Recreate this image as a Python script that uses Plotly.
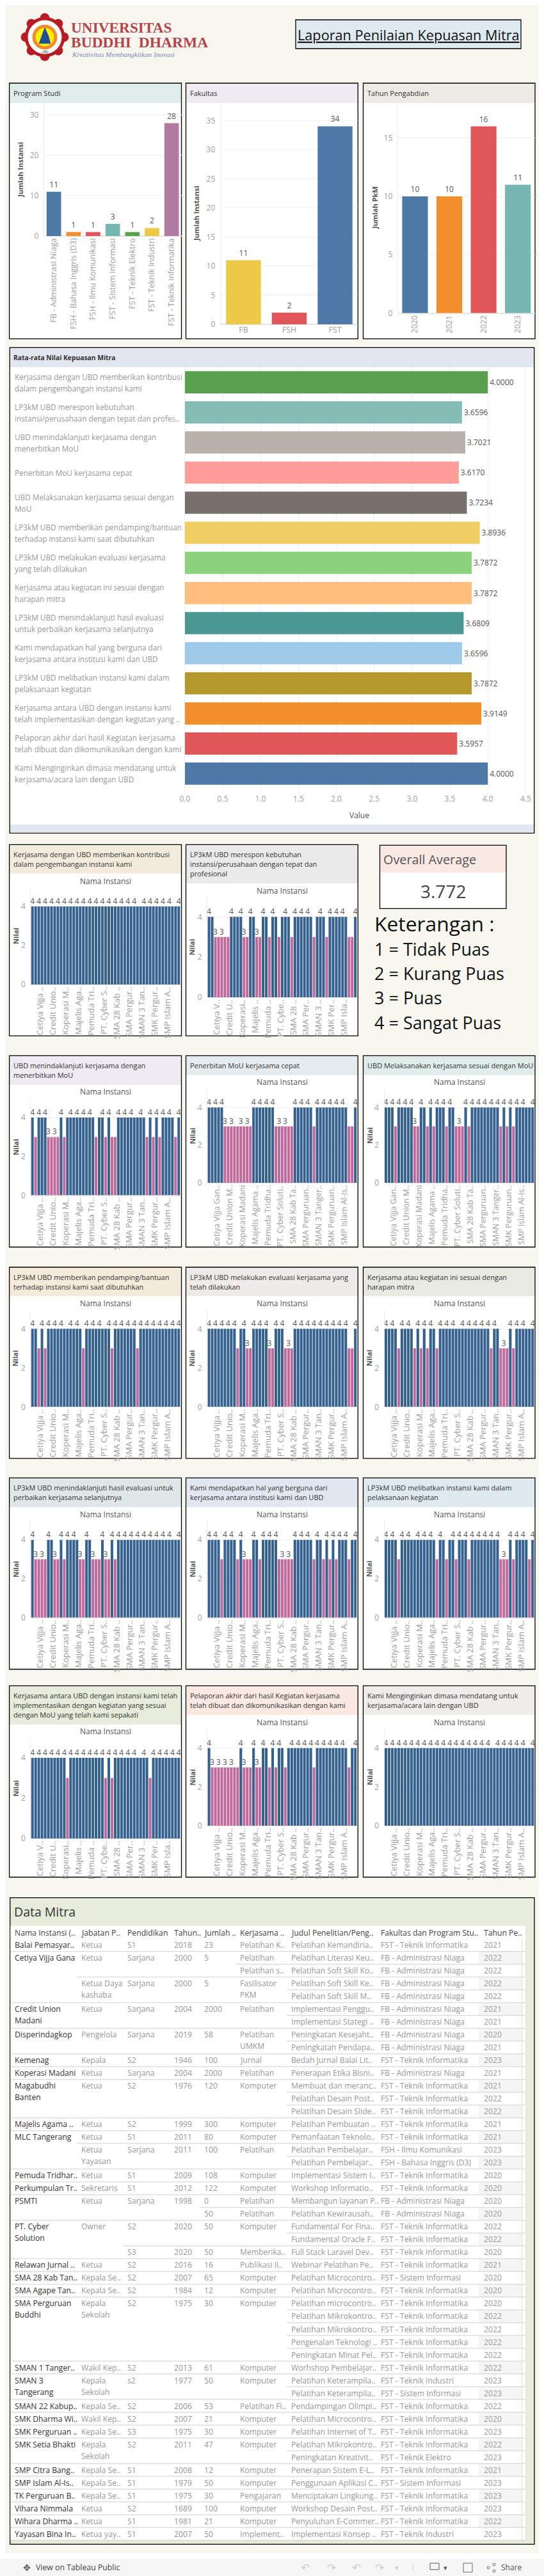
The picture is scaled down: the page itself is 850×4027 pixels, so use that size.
import plotly.graph_objects as go

# ---------------- DATA ----------------
prodi_names = ["FB - Administrasi Niaga", "FSH - Bahasa Inggris (D3)", "FSH - Ilmu Komunikasi", "FST - Sistem Informasi", "FST - Teknik Elektro", "FST - Teknik Industri", "FST - Teknik Informatika"]
prodi_values = [11, 1, 1, 3, 1, 2, 28]
prodi_colors = ["#4e79a7", "#f28e2b", "#e15759", "#76b7b2", "#59a14f", "#edc948", "#b07aa1"]
fak_names = ["FB", "FSH", "FST"]
fak_values = [11, 2, 34]
fak_colors = ["#edc948", "#e15759", "#4e79a7"]
tahun_names = ["2020", "2021", "2022", "2023"]
tahun_values = [10, 10, 16, 11]
tahun_colors = ["#4e79a7", "#f28e2b", "#e15759", "#76b7b2"]

avg_lines = [
    ["Kerjasama dengan UBD memberikan kontribusi", "dalam pengembangan instansi kami"],
    ["LP3kM UBD merespon kebutuhan", "instansi/perusahaan dengan tepat dan profes.."],
    ["UBD menindaklanjuti kerjasama dengan", "menerbitkan MoU"],
    ["Penerbitan MoU kerjasama cepat"],
    ["UBD Melaksanakan kerjasama sesuai dengan", "MoU"],
    ["LP3kM UBD memberikan pendamping/bantuan", "terhadap instansi kami saat dibutuhkan"],
    ["LP3kM UBD melakukan evaluasi kerjasama", "yang telah dilakukan"],
    ["Kerjasama atau kegiatan ini sesuai dengan", "harapan mitra"],
    ["LP3kM UBD menindaklanjuti hasil evaluasi", "untuk perbaikan kerjasama selanjutnya"],
    ["Kami mendapatkan hal yang berguna dari", "kerjasama antara institusi kami dan UBD"],
    ["LP3kM UBD melibatkan instansi kami dalam", "pelaksanaan kegiatan"],
    ["Kerjasama antara UBD dengan instansi kami", "telah implementasikan dengan kegiatan yang .."],
    ["Pelaporan akhir dari hasil Kegiatan kerjasama", "telah dibuat dan dikomunikasikan dengan kami"],
    ["Kami Menginginkan dimasa mendatang untuk", "kerjasama/acara lain dengan UBD"],
]
avg_values = [4.0, 3.6596, 3.7021, 3.6170, 3.7234, 3.8936, 3.7872, 3.7872, 3.6809, 3.6596, 3.7872, 3.9149, 3.5957, 4.0]
avg_colors = ["#59a14f", "#86bcb6", "#bab0ac", "#ff9d9a", "#79706e", "#f1ce63", "#8cd17d", "#ffbe7d", "#499894", "#a0cbe8", "#b6992d", "#f28e2b", "#e15759", "#4e79a7"]

ticks_mid = ["Cetiya Vijja ..", "Credit Unio..", "Koperasi M..", "Majelis Aga..", "Pemuda Tri..", "PT. Cyber S..", "SMA 28 Kab ..", "SMA Pergur..", "SMAN 3 Tan..", "SMK Pergur..", "SMP Islam A.."]
ticks_short = ["Cetiya V..", "Credit U..", "Koperasi..", "Majelis ..", "Pemuda ..", "PT. Cybe..", "SMA 28 ..", "SMA Per..", "SMAN 3 ..", "SMK Per..", "SMP Isla.."]
ticks_long = ["Cetiya Vijja Gan..", "Credit Union M..", "Koperasi Madani", "Majelis Agama ..", "Pemuda Tridha..", "PT. Cyber Soluti..", "SMA 28 Kab Ta..", "SMA Perguruan..", "SMAN 3 Tanger..", "SMK Perguruan..", "SMP Islam Al-Is.."]
tick_index = [2, 6, 10, 14, 18, 22, 26, 30, 34, 38, 42]

q01 = [4,4,4,4,4,4,4,4,4,4, 4,4,4,4,4,4,4,4,4,4, 4,4,4,4,4,4,4,4,4,4, 4,4,4,4,4,4,4,4,4,4, 4,4,4,4,4,4,4]
q02 = [4,4,3,3,3,3,3,4,4,4, 4,3,3,4,4,3,3,4,4,3, 4,4,3,4,4,4,3,4,4,4, 4,4,4,3,4,4,4,3,4,4, 4,4,4,4,3,3,4]
q03 = [4,3,4,4,4,3,3,3,3,4, 3,4,4,4,4,4,4,4,4,4, 3,4,4,3,4,3,3,4,4,4, 4,4,4,4,4,4,3,4,3,4, 3,4,4,4,4,3,4]
q04 = [4,4,4,4,4,3,3,3,3,3, 3,3,3,3,4,4,4,4,4,4, 4,3,3,3,3,3,3,4,4,4, 4,4,4,3,4,4,4,4,4,4, 4,4,4,4,3,3,4]
q05 = [4,4,4,3,4,4,4,4,4,3, 3,4,4,3,4,3,4,4,4,3, 4,4,3,3,3,4,3,4,4,4, 4,4,4,4,4,4,3,4,3,4, 3,4,4,4,4,4,4]
q06 = [4,4,3,4,3,4,4,4,4,4, 4,4,4,4,4,4,3,4,4,4, 4,4,4,4,4,3,4,4,4,4, 4,4,4,3,4,4,4,4,4,4, 4,4,4,4,4,4,4]
q07 = [4,4,4,4,4,4,4,4,4,3, 4,4,3,3,4,4,4,4,4,3, 3,4,4,4,3,3,3,4,4,4, 4,4,4,4,4,4,4,4,4,4, 4,4,4,4,3,3,4]
q08 = [4,4,4,4,3,4,4,4,4,3, 4,3,4,3,4,4,3,4,4,4, 4,4,4,4,4,4,4,4,4,4, 4,4,4,3,4,4,3,3,3,4, 3,4,4,4,4,4,4]
q09 = [4,3,3,3,3,4,4,3,3,4, 3,4,4,4,4,3,3,4,4,3, 3,3,4,3,3,4,3,4,4,4, 4,4,4,4,4,4,4,4,4,4, 4,4,4,4,4,4,4]
q10 = [4,4,4,4,3,4,4,4,4,3, 4,3,3,3,4,4,3,4,4,4, 4,4,3,3,3,3,3,4,4,4, 4,4,4,3,4,4,3,4,3,4, 3,4,4,4,3,4,4]
q11 = [4,4,4,4,3,4,4,4,4,4, 4,4,4,4,4,4,3,4,4,3, 4,4,3,4,4,4,3,4,4,4, 4,4,4,4,4,4,3,3,3,4, 3,4,4,4,4,3,4]
q12 = [4,4,4,4,4,4,4,4,4,4, 4,3,4,4,4,4,4,4,4,4, 4,4,4,3,4,3,4,4,4,4, 4,4,4,4,4,4,4,3,4,4, 4,4,4,4,4,4,4]
q13 = [4,3,3,3,3,3,3,3,3,3, 4,3,3,3,4,3,3,4,4,3, 4,3,4,4,3,4,4,4,4,4, 4,4,4,3,4,4,4,4,4,4, 4,4,4,4,3,4,4]
q14 = [4,4,4,4,4,4,4,4,4,4, 4,4,4,4,4,4,4,4,4,4, 4,4,4,4,4,4,4,4,4,4, 4,4,4,4,4,4,4,4,4,4, 4,4,4,4,4,4,4]

# which bars carry a visible value label
lab01 = [0,2,4,6,8,10,12,14,16,18,20,22,24,26,28,30,32,35,37,39,41,43,46]
lab02 = [0,7,10,13,17,20,24,27,29,31,35,38,40,42,46,2,4,11,15]
lab03 = [0,2,4,9,12,14,16,18,22,24,27,29,31,34,37,39,41,43,46,5,7]
lab04 = [0,2,4,14,16,18,20,27,29,31,34,36,38,40,42,46,5,7,10,12,22,24]
lab05 = [0,2,4,6,8,11,14,16,18,20,25,27,29,31,33,35,37,39,41,43,46,9,23]
lab06 = [0,3,5,7,9,12,14,17,19,21,24,26,28,30,32,34,36,38,40,42,44,46]
lab07 = [0,2,4,6,8,11,14,16,18,21,23,27,29,31,33,35,37,39,41,43,46,12,19,25]
lab08 = [0,2,5,7,10,12,14,17,19,21,24,26,28,30,32,34,39,41,43,46,37]
lab09 = [0,5,9,11,13,17,22,25,27,29,31,33,35,37,39,41,43,46,1,3,7,15,19,23]
lab10 = [0,2,5,7,10,14,17,19,21,27,29,31,34,37,39,41,43,46,11,23,25]
lab11 = [0,2,5,7,10,12,14,17,21,23,25,27,29,31,33,35,39,41,43,46,37]
lab12 = [0,2,4,6,8,10,12,14,16,18,20,22,24,26,28,30,32,35,38,40,42,44,46]
lab13 = [0,10,14,17,20,22,26,28,30,32,34,36,38,40,42,46,1,3,5,7,11,15]
lab14 = [0,2,4,6,8,10,12,14,16,18,20,22,24,26,28,30,32,35,37,39,41,43,46]

q_titles = [
    ["Kerjasama dengan UBD memberikan kontribusi", "dalam pengembangan instansi kami"],
    ["LP3kM UBD merespon kebutuhan", "instansi/perusahaan dengan tepat dan", "profesional"],
    ["UBD menindaklanjuti kerjasama dengan", "menerbitkan MoU"],
    ["Penerbitan MoU kerjasama cepat"],
    ["UBD Melaksanakan kerjasama sesuai dengan MoU"],
    ["LP3kM UBD memberikan pendamping/bantuan", "terhadap instansi kami saat dibutuhkan"],
    ["LP3kM UBD melakukan evaluasi kerjasama yang", "telah dilakukan"],
    ["Kerjasama atau kegiatan ini sesuai dengan", "harapan mitra"],
    ["LP3kM UBD menindaklanjuti hasil evaluasi untuk", "perbaikan kerjasama selanjutnya"],
    ["Kami mendapatkan hal yang berguna dari", "kerjasama antara institusi kami dan UBD"],
    ["LP3kM UBD melibatkan instansi kami dalam", "pelaksanaan kegiatan"],
    ["Kerjasama antara UBD dengan instansi kami telah", "implementasikan dengan kegiatan yang sesuai", "dengan MoU yang telah kami sepakati"],
    ["Pelaporan akhir dari hasil Kegiatan kerjasama", "telah dibuat dan dikomunikasikan dengan kami"],
    ["Kami Menginginkan dimasa mendatang untuk", "kerjasama/acara lain dengan UBD"],
]

table_header = ["Nama Instansi (..", "Jabatan P..", "Pendidikan", "Tahun..", "Jumlah ..", "Kerjasama ..", "Judul Penelitian/Peng..", "Fakultas dan Program Stu..", "Tahun Pe.."]
TI = "FST - Teknik Informatika"
FB = "FB - Administrasi Niaga"
SI = "FST - Sistem Informasi"
TD = "FST - Teknik Industri"
table_rows = [
    ["Balai Pemasyar..", "Ketua", "S1", "2018", "23", "Pelatihan K..", "Pelatihan Kemandiria..", TI, "2021"],
    ["Cetiya Vijja Gana", "Ketua", "Sarjana", "2000", "5", "Pelatihan", "Pelatihan Literasi Keu..", FB, "2022"],
    ["", "", "", "", "", "Pelatihan s..", "Pelatihan Soft Skill Ko..", FB, "2022"],
    ["", "Ketua Daya|kashaba", "Sarjana", "2000", "5", "Fasilisator|PKM", "Pelatihan Soft Skill Ke..", FB, "2022"],
    ["", "", "", "", "", "", "Pelatihan Soft Skill M..", FB, "2022"],
    ["Credit Union|Madani", "Ketua", "Sarjana", "2004", "2000", "Pelatihan", "Implementasi Penggu..", FB, "2021"],
    ["", "", "", "", "", "", "Implementasi Stategi ..", FB, "2021"],
    ["Disperindagkop", "Pengelola", "Sarjana", "2019", "58", "Pelatihan|UMKM", "Peningkatan Kesejaht..", FB, "2020"],
    ["", "", "", "", "", "", "Peningkatan Pendapa..", FB, "2021"],
    ["Kemenag", "Kepala", "S2", "1946", "100", "Jurnal", "Bedah Jurnal Balai Lit..", TI, "2023"],
    ["Koperasi Madani", "Ketua", "Sarjana", "2004", "2000", "Pelatihan", "Penerapan Etika Bisni..", FB, "2021"],
    ["Magabudhi|Banten", "Ketua", "S2", "1976", "120", "Komputer", "Membuat dan meranc..", TI, "2021"],
    ["", "", "", "", "", "", "Pelatihan Desain Post..", TI, "2022"],
    ["", "", "", "", "", "", "Pelatihan Desain Slide..", TI, "2022"],
    ["Majelis Agama ..", "Ketua", "S2", "1999", "300", "Komputer", "Pelatihan Pembuatan ..", TI, "2021"],
    ["MLC Tangerang", "Ketua", "S1", "2011", "80", "Komputer", "Pemanfaatan Teknolo..", TI, "2021"],
    ["", "Ketua|Yayasan", "Sarjana", "2011", "100", "Pelatihan", "Pelatihan Pembelajar..", "FSH - Ilmu Komunikasi", "2023"],
    ["", "", "", "", "", "", "Pelatihan Pembelajar..", "FSH - Bahasa Inggris (D3)", "2023"],
    ["Pemuda Tridhar..", "Ketua", "S1", "2009", "108", "Komputer", "Implementasi Sistem I..", TI, "2020"],
    ["Perkumpulan Tr..", "Sekretaris", "S1", "2012", "122", "Komputer", "Workshop Informatio..", TI, "2020"],
    ["PSMTI", "Ketua", "Sarjana", "1998", "0", "Pelatihan", "Membangun layanan P..", FB, "2020"],
    ["", "", "", "", "50", "Pelatihan", "Pelatihan Kewirausah..", FB, "2020"],
    ["PT. Cyber|Solution", "Owner", "S2", "2020", "50", "Komputer", "Fundamental For Fina..", TI, "2022"],
    ["", "", "", "", "", "", "Fundamental Oracle F..", TI, "2022"],
    ["", "", "S3", "2020", "50", "Memberika..", "Full Stack Laravel Dev..", TI, "2020"],
    ["Relawan Jurnal ..", "Ketua", "S2", "2016", "16", "Publikasi Il..", "Webinar Pelatihan Pe..", TI, "2021"],
    ["SMA 28 Kab Tan..", "Kepala Se..", "S2", "2007", "65", "Komputer", "Pelatihan Microcontro..", SI, "2020"],
    ["SMA Agape Tan..", "Kepala Se..", "S2", "1984", "12", "Komputer", "Pelatihan Microcontro..", TI, "2020"],
    ["SMA Perguruan|Buddhi", "Kepala|Sekolah", "S2", "1975", "30", "Komputer", "Pelatihan microcontro..", TI, "2020"],
    ["", "", "", "", "", "", "Pelatihan Mikrokontro..", TI, "2022"],
    ["", "", "", "", "", "", "Pelatihan Mikrokontro..", TI, "2022"],
    ["", "", "", "", "", "", "Pengenalan Teknologi ..", TI, "2022"],
    ["", "", "", "", "", "", "Peningkatan Minat Pel..", TI, "2022"],
    ["SMAN 1 Tanger..", "Wakil Kep..", "S2", "2013", "61", "Komputer", "Worhshop Pembelajar..", TI, "2022"],
    ["SMAN 3|Tangerang", "Kepala|Sekolah", "s2", "1977", "50", "Komputer", "Pelatihan Keterampila..", TD, "2023"],
    ["", "", "", "", "", "", "Pelatihan Keterampila..", SI, "2023"],
    ["SMAN 22 Kabup..", "Kepala Se..", "S2", "2006", "53", "Pelatihan Fi..", "Pendampingan Olimpi..", TI, "2022"],
    ["SMK Dharma Wi..", "Wakil Kep..", "S2", "2007", "21", "Komputer", "Pelatihan Microcontro..", TI, "2020"],
    ["SMK Perguruan ..", "Kepala Se..", "S3", "1975", "30", "Komputer", "Pelatihan Internet of T..", TI, "2023"],
    ["SMK Setia Bhakti", "Kepala|Sekolah", "S2", "2011", "47", "Komputer", "Pelatihan Mikrokontro..", TI, "2022"],
    ["", "", "", "", "", "", "Peningkatan Kreativit..", "FST - Teknik Elektro", "2023"],
    ["SMP Citra Bang..", "Kepala Se..", "S1", "2008", "12", "Komputer", "Penerapan Sistem E-L..", TI, "2021"],
    ["SMP Islam Al-Is..", "Kepala Se..", "S1", "1979", "50", "Komputer", "Penggunaan Aplikasi C..", SI, "2023"],
    ["TK Perguruan B..", "Kepala Se..", "S1", "1975", "30", "Pengajaran", "Menciptakan Lingkung..", TI, "2023"],
    ["Vihara Nimmala", "Ketua", "S2", "1689", "100", "Komputer", "Workshop Desain Post..", TI, "2023"],
    ["Wihara Dharma ..", "Ketua", "S1", "1981", "21", "Komputer", "Penyuluhan E-Commer..", TI, "2022"],
    ["Yayasan Bina In..", "Ketua yay..", "S1", "2007", "50", "Implement..", "Implementasi Konsep ..", TD, "2023"],
]

# ---------------- LAYOUT HELPERS ----------------
W, H = 850, 4027
FONT = "Open Sans"
BLUE, PINK = "#35618f", "#bf6a9b"
GRID = "#efefef"
TICKC = "#a0a0a0"
TBL = 12.2
def X(x): return x / W
def Y(y): return 1 - y / H

shapes, annos = [], []
def rect(x0, y0, x1, y1, fill=None, line=None, lw=1):
    shapes.append(dict(type="rect", xref="paper", yref="paper", x0=X(x0), x1=X(x1), y0=Y(y0), y1=Y(y1),
                       fillcolor=fill or "rgba(0,0,0,0)", line=dict(color=line or "rgba(0,0,0,0)", width=lw if line else 0), layer="below"))
def seg(x0, y0, x1, y1, color, lw=1):
    shapes.append(dict(type="line", xref="paper", yref="paper", x0=X(x0), x1=X(x1), y0=Y(y0), y1=Y(y1),
                       line=dict(color=color, width=lw), layer="below"))
def circle(cx, cy, r, fill, line=None, lw=1):
    shapes.append(dict(type="circle", xref="paper", yref="paper", x0=X(cx - r), x1=X(cx + r), y0=Y(cy + r), y1=Y(cy - r),
                       fillcolor=fill, line=dict(color=line or fill, width=lw), layer="below"))
def text(x, y, s, size=11, color="#333", anchor="left", angle=0, font=FONT):
    a = "center" if anchor == "middle" else anchor
    annos.append(dict(xref="paper", yref="paper", x=X(x), y=Y(y), text=s, showarrow=False, xanchor=a, yanchor="middle",
                      align=a, textangle=angle, font=dict(size=size, color=color, family=font),
                      borderpad=0, bgcolor="rgba(0,0,0,0)"))

def panel(x0, y0, x1, y1, hy, hcolor, lines, tsize=11, tcolor="#333"):
    rect(x0, y0, x1, y1, "#ffffff")
    rect(x0, y0, x1, hy, hcolor)
    rect(x0, y0, x1, y1, None, "#000000", 1.3)
    mid = (y0 + hy) / 2
    for k, ln in enumerate(lines):
        text(x0 + 5, mid + (k - (len(lines) - 1) / 2) * 15, ln, tsize, tcolor)

def axname(n):
    return ("x" if n == 1 else f"x{n}", "y" if n == 1 else f"y{n}")

fig = go.Figure()
axes = {}
n_ax = 0
def add_axes(l, r, t, b, xcfg, ycfg):
    global n_ax
    n_ax += 1
    xn, yn = axname(n_ax)
    axes["xaxis" + xn[1:]] = dict(domain=[X(l), X(r)], anchor=yn, automargin=False, **xcfg)
    axes["yaxis" + yn[1:]] = dict(domain=[Y(b), Y(t)], anchor=xn, automargin=False, **ycfg)
    return xn, yn

# ---------------- PAGE, LOGO, TITLE ----------------
rect(8, 8, 842, 3992, "#f7f7f0")
rect(0, 4000, 850, 4027, "#f6f6f6")
LOGO_R = "#b71c25"
for dx, dy in [(0,-30),(21,-21),(30,0),(21,21),(0,30),(-21,21),(-30,0),(-21,-21)]:
    circle(70 + dx, 58 + dy, 7, LOGO_R)
circle(70, 58, 31, LOGO_R)
circle(70, 58, 26, "#ffffff")
circle(70, 58, 19, "#f28a2e")
circle(70, 58, 14, "#fbf000")
shapes.append(dict(type="path", xref="paper", yref="paper", layer="below", fillcolor="#1f4e9c", line=dict(color="#1f4e9c", width=0.5),
                   path="M {} {} L {} {} L {} {} L {} {} Z".format(X(70), Y(43), X(76), Y(57), X(79), Y(68), X(61), Y(68))))
text(70, 81, "UBD", 5, "#222", "middle")
SERIF = "Liberation Serif"
text(110, 43, "<b>UNIVERSITAS</b>", 23.3, "#b8444a", font=SERIF)
text(110, 66.5, "<b>BUDDHI  DHARMA</b>", 23.5, "#b8444a", font=SERIF)
text(110.5, 85, "<i>Kreativitas Membangkitkan Inovasi</i>", 11.2, "#7c88b0", font=SERIF)
rect(462, 31, 814, 76, "#deeaf0", "#000000", 1.3)
text(638, 55, "<u>Laporan Penilaian Kepuasan Mitra</u>", 21.7, "#111", "middle")

# ---------------- TOP ROW ----------------
def top_chart(px0, px1, header, title, names, values, colors, ytitle, ytx, axl, y0, ymax, dtick, bandgap, tickangle):
    panel(px0, 130, px1, 529.6, 161, header, [title])
    xn, yn = add_axes(axl, px1, 161, y0,
        dict(type="category", categoryorder="array", categoryarray=names, tickangle=tickangle, showgrid=False, showline=False, ticks="", ticklen=0,
             tickfont=dict(family=FONT, size=12.3, color=TICKC)),
        dict(range=[0, ymax], dtick=dtick, showgrid=True, gridcolor=GRID, zeroline=True, zerolinecolor="#e5e5e5", showline=True, linecolor=GRID, ticks="outside", ticklen=5, tickcolor="#ffffff",
             tickfont=dict(family=FONT, size=12, color=TICKC)))
    fig.add_trace(go.Bar(x=names, y=values, marker=dict(color=colors, line=dict(width=0)), text=[str(v) for v in values], textposition="outside", textangle=0,
                         constraintext="none", cliponaxis=False, textfont=dict(family=FONT, size=12, color="#555555"), xaxis=xn, yaxis=yn, width=bandgap, showlegend=False))
    text(ytx, (161 + y0) / 2, "<b>" + ytitle + "</b>", 11, "#555555", "middle", -90)

top_chart(14.6, 283.5, "#dfecea", "Program Studi", prodi_names, prodi_values, prodi_colors, "Jumlah Instansi", 31.4, 68.8, 369, 33, 10, 0.74, -90)
top_chart(290.5, 559.3, "#f0eaf3", "Fakultas", fak_names, fak_values, fak_colors, "Jumlah Instansi", 307, 344.7, 507, 38, 5, 0.76, 0)
top_chart(567.5, 836, "#eeebe7", "Tahun Pengabdian", tahun_names, tahun_values, tahun_colors, "Jumlah PkM", 585, 621.7, 489.5, 18, 5, 0.75, -90)

# ---------------- AVERAGE CHART ----------------
panel(15.2, 543.4, 834.7, 1302.3, 574, "#e2e6f0", ["<b>Rata-rata Nilai Kepuasan Mitra</b>"], 10.3, "#333")
rect(16, 1289, 834, 1301.6, "#e2e6f0")
avg_cats = [" ".join(l) for l in avg_lines]
xn, yn = add_axes(288.9, 834.0, 574, 1233,
    dict(range=[0, 4.607], dtick=0.5, tickformat=".1f", showgrid=True, gridcolor=GRID, zeroline=False, showline=False, ticks="outside", ticklen=5, tickcolor="#eeeeee",
         tickfont=dict(family=FONT, size=12, color=TICKC)),
    dict(type="category", categoryorder="array", categoryarray=avg_cats, range=[13.5, -0.5], showticklabels=False, showgrid=False, zeroline=False, showline=True, linecolor=GRID, ticks=""))
fig.add_trace(go.Bar(x=avg_values, y=avg_cats, orientation="h", width=0.738, marker=dict(color=avg_colors, line=dict(width=0)), texttemplate="%{x:.4f}", textposition="outside",
                     textangle=0, constraintext="none", cliponaxis=False, textfont=dict(family=FONT, size=12, color="#555555"), xaxis=xn, yaxis=yn, showlegend=False))
for cat, lines in zip(avg_cats, avg_lines):
    for k, ln in enumerate(lines):
        annos.append(dict(xref="paper", yref=yn, x=X(20.5), y=cat, yshift=(9 if len(lines) == 2 and k == 0 else -9 if len(lines) == 2 else 0), text=ln, showarrow=False,
                          xanchor="left", yanchor="middle", font=dict(family=FONT, size=11.8, color="#999999")))
text(561, 1274, "Value", 12, "#555555", "middle")

# ---------------- SMALL MULTIPLES ----------------
COLX = [(14.6, 283.5, 48.2, 281.8), (290.5, 559.3, 324.1, 557.7), (567.5, 836, 600.5, 834.7)]
small = [
    (q01, lab01, 0, 1320.3, 1619.3, 1365.7, 1377, 1386, 1539, 1417, "#f3ecdd", ticks_mid),
    (q02, lab02, 1, 1320.3, 1619.3, 1381, 1392, 1401, 1559, 1433.3, "#eaeaeb", ticks_short),
    (q03, lab03, 0, 1650.4, 1949.5, 1696, 1706.8, 1716.8, 1868.6, 1747, "#f0eaf3", ticks_mid),
    (q04, lab04, 1, 1650.4, 1949.5, 1680.7, 1691.9, 1701.4, 1849, 1731.3, "#e6ebef", ticks_long),
    (q05, lab05, 2, 1650.4, 1949.5, 1680.7, 1691.9, 1701.4, 1849, 1731.3, "#dfece9", ticks_long),
    (q06, lab06, 0, 1981, 2279.8, 2026.3, 2037, 2046.6, 2199.3, 2077.3, "#f5ebda", ticks_mid),
    (q07, lab07, 1, 1981, 2279.8, 2026.3, 2037, 2046.6, 2199.3, 2077.3, "#efebe8", ticks_mid),
    (q08, lab08, 2, 1981, 2279.8, 2026.3, 2037, 2046.6, 2199.3, 2077.3, "#e8e9e2", ticks_mid),
    (q09, lab09, 0, 2310.4, 2609.5, 2355.9, 2367, 2376.4, 2528.7, 2407.2, "#e0e7e9", ticks_mid),
    (q10, lab10, 1, 2310.4, 2609.5, 2355.9, 2367, 2376.4, 2528.7, 2407.2, "#e2e6f0", ticks_mid),
    (q11, lab11, 2, 2310.4, 2609.5, 2355.9, 2367, 2376.4, 2528.7, 2407.2, "#deeaf0", ticks_mid),
    (q12, lab12, 0, 2635.4, 2934.5, 2696, 2706.8, 2716, 2874.2, 2747.9, "#e7ecda", ticks_short),
    (q13, lab13, 1, 2635.4, 2934.5, 2680.9, 2692, 2701.9, 2854.1, 2732.7, "#f9e9e2", ticks_mid),
    (q14, lab14, 2, 2635.4, 2934.5, 2680.9, 2692, 2701.9, 2854.1, 2732.7, "#efecea", ticks_mid),
]
for (vals, labs, col, top, bot, hy, ny, pt, p0, p4, hcolor, tks), title in zip(small, q_titles):
    px0, px1, axl, axr = COLX[col]
    panel(px0, top, px1, bot, hy, hcolor, title)
    ymax = 4 * (p0 - pt) / (p0 - p4)
    xn, yn = add_axes(axl, axr, pt, p0,
        dict(range=[-0.5, 46.5], tickmode="array", tickvals=[i + 0.5 for i in tick_index], ticktext=tks, tickangle=-90, showgrid=False, showline=False, zeroline=False,
             ticks="", ticklen=0, tickfont=dict(family=FONT, size=12.4 if tks is ticks_long else 13, color=TICKC)),
        dict(range=[0, ymax], tickvals=[0, 2, 4], showgrid=True, gridcolor=GRID, zeroline=True, zerolinecolor="#e5e5e5", showline=True, linecolor=GRID, ticks="outside", ticklen=5, tickcolor="#ffffff",
             tickfont=dict(family=FONT, size=12, color=TICKC)))
    fig.add_trace(go.Bar(x=list(range(47)), y=vals, width=0.82, marker=dict(color=[BLUE if v == 4 else PINK for v in vals], line=dict(width=0)),
                         text=[str(v) if i in labs else "" for i, v in enumerate(vals)], textposition="outside", textangle=0, constraintext="none", cliponaxis=False,
                         textfont=dict(family=FONT, size=12, color="#555555"), xaxis=xn, yaxis=yn, showlegend=False))
    text((axl + axr) / 2, ny, "Nama Instansi", 12, "#555555", "middle")
    text(axl - 23.8, (pt + p0) / 2, "<b>Nilai</b>", 11, "#555555", "middle", -90)

# ---------------- OVERALL AVERAGE + LEGEND ----------------
rect(593.5, 1321.3, 791, 1420.3, "#ffffff")
rect(593.5, 1321.3, 791, 1364, "#f9e9e2")
rect(593.5, 1321.3, 791, 1420.3, None, "#000000", 1.3)
text(598, 1343.5, "Overall Average", 19.8, "#555555")
text(692, 1393, "3.772", 28, "#444444", "middle")
text(584, 1443, "Keterangan :", 31.8, "#111111")
for yy, s in zip([1483, 1521.7, 1560, 1598], ["1 = Tidak Puas", "2 = Kurang Puas", "3 = Puas", "4 = Sangat Puas"]):
    text(584, yy, s, 27, "#111111")

# ---------------- TABLE ----------------
rect(15.7, 2966.6, 835, 3977.3, "#e7ecda", "#000000", 1.3)
text(20.6, 2988.8, "Data Mitra", 19.5, "#333333")
rect(16.4, 3010.5, 821, 3970.7, "#ffffff")
col_text = [22.2, 126.3, 198.4, 270.5, 318.2, 374, 454.2, 594, 754.5]
col_edge = [16.4, 120, 192, 265, 313, 368.6, 448, 588, 748]
ROW0, RH = 3040.7, 20.01
for x, s in zip(col_text, table_header):
    text(x, 3021.8, s, TBL, "#444444")
for i, row in enumerate(table_rows):
    yc = ROW0 + i * RH
    if i % 2 == 1:
        rect(748, yc - RH / 2, 815.7, yc + RH / 2, "#f5f5f5")
    first = next(c for c, v in enumerate(row) if v)
    if i > 0:
        seg(col_edge[first], yc - RH / 2, 821, yc - RH / 2, "#cfcfcf", 1)
    for c, v in enumerate(row):
        if not v:
            continue
        for k, part in enumerate(v.split("|")):
            text(col_text[c], yc + k * 18, part, TBL, "#333333" if c == 0 else "#999999")
seg(16.4, ROW0 + 46.5 * RH, 821, ROW0 + 46.5 * RH, "#cfcfcf", 1)
seg(815.7, 3030.7, 815.7, 3970.7, "#dddddd", 1)

# ---------------- FOOTER ----------------
text(55, 4013.6, "View on Tableau Public", 12.3, "#444444")
text(41.5, 4013.6, "✥", 14, "#555555", "middle", font="DejaVu Sans")
for xx, s in zip([477, 518, 557, 593], ["↶", "↷", "↶", "↷"]):
    text(xx, 4013.6, s, 17, "#cccccc", "middle", font="DejaVu Sans")
text(620, 4014, "▾", 11, "#cccccc", "middle", font="DejaVu Sans")
seg(645, 4008, 645, 4019, "#cccccc", 1)
rect(672, 4007, 686, 4017, None, "#555555", 1)
text(696, 4014, "▾", 11, "#555555", "middle", font="DejaVu Sans")
rect(724, 4007, 738, 4021, None, "#666666", 1)
circle(763, 4014, 2, "#ffffff", "#666666", 1)
circle(772, 4009, 2, "#ffffff", "#666666", 1)
circle(772, 4019, 2, "#ffffff", "#666666", 1)
text(782, 4013.6, "Share", 12, "#555555")

fig.update_layout(width=W, height=H, margin=dict(l=0, r=0, t=0, b=0), autosize=False, paper_bgcolor="#ffffff", plot_bgcolor="rgba(0,0,0,0)",
                  showlegend=False, shapes=shapes, annotations=annos, hovermode=False, font=dict(family=FONT), **axes)
fig.write_html("out.html", config=dict(displayModeBar=False, responsive=False), post_script="document.body.style.margin='0';document.body.style.overflow='hidden';")
